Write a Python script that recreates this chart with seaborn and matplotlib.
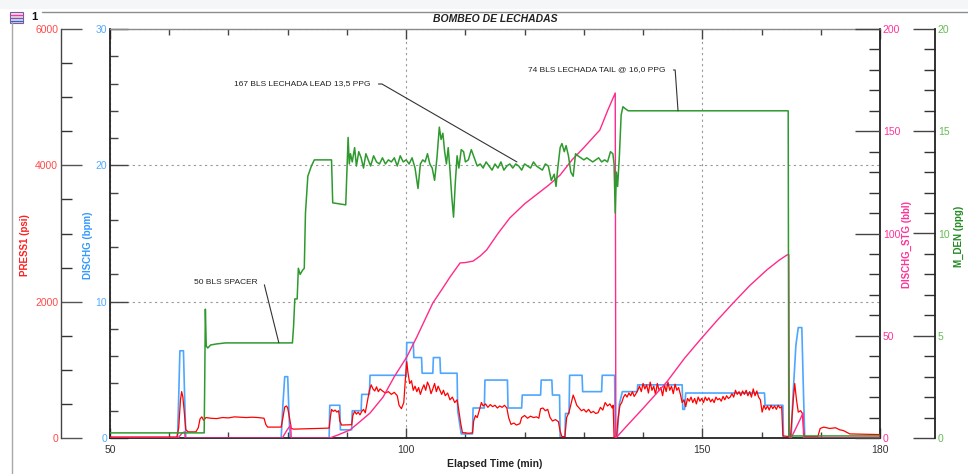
import numpy as np
import pandas as pd
import matplotlib
matplotlib.use("Agg")
import matplotlib.pyplot as plt
from matplotlib.ticker import MultipleLocator, FixedLocator
from matplotlib.patches import Rectangle
from matplotlib.lines import Line2D
import seaborn as sns

sns.set_style("white")
plt.rcParams["font.family"] = ["Liberation Sans", "DejaVu Sans"]

# ---------------- data ----------------
# PRESS1 (psi) vs elapsed time (min)
press_t = [50.0, 61.3, 61.6, 61.9, 62.1, 62.3, 62.5, 62.8, 63.2, 64.5, 64.9, 65.2, 65.5, 65.8, 66.2,
           67.0, 68.0, 69.0, 70.0, 71.0, 72.0, 73.0, 74.0, 75.0, 76.0, 76.3, 76.6, 78.9, 79.2, 79.5,
           79.8, 80.0, 80.3, 80.6, 81.0, 87.0, 87.2, 87.4, 87.7, 88.0, 88.3, 88.6, 88.8, 89.1, 90.8,
           91.0, 91.3, 91.6, 91.9, 92.2, 92.5, 92.8, 93.1, 93.5, 93.8, 94.1, 94.4, 94.7, 95.0, 95.3,
           95.6, 96.0, 96.5, 97.0, 97.5, 98.0, 98.5, 98.8, 99.2, 99.6, 99.9, 100.1, 100.3, 100.6, 100.9,
           101.2, 101.5, 101.8, 102.1, 102.4, 102.7, 103.0, 103.3, 103.6, 103.9, 104.2, 104.5, 104.8, 105.1, 105.4,
           105.7, 106.0, 106.3, 106.6, 107.0, 107.4, 107.8, 108.2, 108.6, 108.9, 109.2, 109.5, 110.5, 111.2, 111.4,
           111.7, 112.0, 112.4, 112.7, 113.0, 113.4, 113.8, 114.2, 114.6, 115.0, 115.4, 115.8, 116.2, 116.6, 117.0,
           117.3, 117.7, 118.2, 118.6, 119.2, 119.5, 120.0, 120.5, 121.0, 121.5, 122.0, 122.4, 122.7, 123.1, 123.5,
           123.9, 124.3, 124.7, 125.2, 125.7, 126.0, 126.3, 126.8, 127.1, 127.5, 127.9, 128.2, 128.5, 128.8, 129.2,
           129.6, 130.0, 130.4, 130.8, 131.2, 131.6, 132.0, 132.4, 132.8, 133.2, 133.6, 134.0, 134.4, 134.8, 134.95,
           135.1, 135.5, 135.8, 136.1, 136.4, 136.7, 137.0, 137.3, 137.6, 137.9, 138.2, 138.5, 138.8, 139.1, 139.4,
           139.7, 140.0, 140.3, 140.6, 140.9, 141.2, 141.5, 141.8, 142.1, 142.4, 142.7, 143.0, 143.3, 143.6, 143.9,
           144.2, 144.5, 144.8, 145.1, 145.4, 145.7, 146.0, 146.3, 146.6, 146.9, 147.2, 147.5, 147.8, 148.1, 148.4,
           148.7, 149.0, 149.3, 149.6, 149.9, 150.2, 150.5, 150.8, 151.1, 151.4, 151.7, 152.0, 152.3, 152.6, 152.9,
           153.2, 153.5, 153.8, 154.1, 154.4, 154.7, 155.0, 155.3, 155.6, 155.9, 156.2, 156.5, 156.8, 157.1, 157.4,
           157.7, 158.0, 158.3, 158.6, 158.9, 159.2, 159.5, 159.8, 160.1, 160.4, 160.7, 161.0, 161.3, 161.6, 161.9,
           162.2, 162.5, 162.8, 163.1, 163.4, 163.6, 164.9, 165.3, 165.6, 165.9, 166.2, 166.6, 166.9, 167.2, 169.5,
           169.9, 170.5, 171.5, 172.5, 173.2, 173.8, 174.9, 180.0]
press_v = [15, 15, 150, 560, 680, 600, 420, 120, 90, 90, 150, 280, 310, 260, 300,
           290, 285, 300, 295, 310, 305, 300, 305, 300, 290, 200, 160, 160, 300, 455,
           470, 440, 300, 140, 130, 145, 300, 420, 390, 410, 380, 400, 250, 190, 195,
           330, 390, 350, 380, 340, 390, 420, 370, 560, 700, 780, 720, 690, 750, 680,
           720, 690, 660, 680, 640, 670, 620, 480, 430, 520, 900, 1120, 960, 800, 840,
           700, 760, 680, 740, 640, 720, 780, 700, 820, 760, 650, 720, 800, 680, 760,
           700, 640, 700, 620, 660, 560, 600, 520, 560, 400, 220, 80, 70, 75, 250,
           330, 300, 420, 520, 470, 500, 450, 490, 460, 480, 440, 470, 450, 480, 440,
           300, 200, 220, 190, 210, 300, 330, 290, 320, 300, 310, 290, 430, 440, 400,
           420, 300, 250, 270, 240, 100, 20, 20, 300, 380, 520, 630, 560, 480, 440,
           400, 420, 380, 420, 370, 390, 360, 370, 450, 410, 520, 470, 500, 440, 480,
           10, 10, 300, 480, 520, 600, 640, 600, 660, 620, 680, 610, 650, 700, 760,
           680, 800, 720, 780, 660, 820, 700, 760, 640, 800, 700, 740, 620, 780, 680,
           820, 700, 760, 650, 790, 700, 740, 640, 520, 560, 460, 580, 540, 600, 520,
           580, 500, 600, 540, 580, 520, 600, 550, 590, 530, 570, 520, 600, 560, 580,
           540, 610, 560, 620, 580, 600, 650, 600, 700, 640, 680, 620, 690, 640, 700,
           620, 680, 600, 720, 620, 690, 600, 560, 380, 480, 420, 470, 410, 480, 430,
           470, 420, 480, 440, 460, 30, 20, 500, 800, 560, 380, 400, 360, 20, 20,
           140, 160, 140, 150, 120, 110, 60, 50]

# DISCHG (bpm)
rate_t = [50.0, 61.4, 61.6, 61.8, 62.4, 62.6, 62.8, 78.9, 79.2, 79.5, 80.0, 80.2, 80.4, 87.0, 87.1,
          88.8, 88.9, 90.8, 90.9, 92.4, 92.5, 93.8, 93.9, 100.0, 100.1, 101.2, 101.3, 102.6, 102.7, 104.5,
          104.6, 105.7, 105.8, 108.6, 108.7, 109.3, 111.2, 111.3, 113.2, 113.3, 117.1, 117.2, 119.5, 119.6, 122.7,
          122.8, 124.6, 124.7, 125.9, 126.0, 126.8, 126.9, 127.5, 127.6, 129.7, 129.8, 133.0, 133.1, 135.2, 135.3,
          135.6, 136.0, 136.5, 139.0, 139.1, 146.6, 146.7, 147.0, 147.2, 160.5, 160.6, 163.6, 163.7, 165.0, 165.3,
          165.8, 166.2, 166.8, 167.1, 167.3, 180.0]
rate_v = [0, 0, 3.0, 6.4, 6.4, 3.0, 0, 0, 2.5, 4.5, 4.5, 2.0, 0, 0, 2.4,
          2.4, 0.6, 0.6, 2.0, 2.0, 3.2, 3.2, 4.6, 4.6, 7.0, 7.0, 5.9, 5.9, 4.75, 4.75,
          5.9, 5.9, 4.75, 4.75, 2.0, 0.3, 0.3, 2.2, 2.2, 4.25, 4.25, 2.2, 2.2, 3.15, 3.15,
          4.25, 4.25, 3.15, 3.15, 0, 0, 1.8, 1.8, 4.6, 4.6, 3.4, 3.4, 4.6, 4.6, 0,
          0, 2.5, 3.4, 3.4, 3.9, 3.9, 2.1, 2.1, 3.3, 3.3, 2.4, 2.4, 0, 0, 3.0,
          6.8, 8.1, 8.1, 3.0, 0, 0]

# DISCHG_STG (bbl)
stage_t = [50.0, 61.5, 62.2, 62.6, 62.7, 79.1, 79.8, 80.5, 80.6, 87.1, 88.5, 90.5, 92.0, 93.9, 96.1,
           98.0, 100.1, 101.8, 103.2, 104.5, 106.0, 107.4, 109.1, 110.0, 111.3, 112.5, 113.6, 115.5, 117.5, 120.0,
           122.0, 124.0, 126.0, 128.0, 130.0, 132.7, 134.0, 135.3, 135.4, 137.0, 140.0, 144.0, 147.0, 149.6, 152.5,
           155.2, 158.0, 160.9, 163.0, 164.3, 164.6, 164.7, 165.0, 165.5, 166.5, 167.0, 167.1, 180.0]
stage_v = [0, 0, 2.5, 3.0, 0, 0, 3.5, 6.4, 0, 0, 1.5, 3.9, 7.5, 12.2, 20.0,
           30.0, 39.6, 49.4, 58.0, 66.0, 72.5, 78.7, 85.6, 85.8, 86.5, 89.0, 92.0, 100.0, 107.6, 114.5,
           119.0, 123.5, 128.6, 136.0, 142.0, 150.6, 160.0, 168.7, 0, 5.1, 14.5, 27.4, 39.0, 47.9, 57.5,
           66.0, 74.5, 82.2, 87.0, 89.5, 89.7, 0, 0, 3.0, 9.0, 12.2, 0, 0]

# M_DEN (ppg)
dens_t = [50.0, 65.9, 66.0, 66.1, 66.25, 66.5, 67.0, 68.0, 69.5, 80.8, 81.0, 81.2, 81.6, 81.8, 82.1,
          82.5, 82.8, 83.0, 83.4, 84.0, 84.5, 87.4, 87.6, 89.8, 90.0, 90.2, 90.4, 90.6, 90.9, 91.3,
          91.6, 92.0, 92.4, 92.8, 93.2, 93.6, 94.0, 94.5, 95.0, 95.5, 96.0, 96.5, 97.0, 97.5, 98.0,
          98.5, 99.0, 99.5, 100.0, 100.5, 101.0, 101.5, 102.0, 102.4, 102.8, 103.2, 103.6, 104.0, 104.4, 104.8,
          105.2, 105.6, 105.9, 106.2, 106.5, 106.8, 107.1, 107.4, 107.7, 108.0, 108.3, 108.6, 108.9, 109.3, 109.7,
          110.0, 110.5, 111.0, 111.5, 112.0, 112.5, 113.0, 113.5, 114.0, 114.5, 115.0, 115.5, 116.0, 116.5, 117.0,
          117.5, 118.0, 118.5, 119.0, 119.5, 120.0, 120.5, 121.0, 121.5, 122.0, 122.5, 123.0, 123.5, 124.0, 124.5,
          125.0, 125.3, 125.6, 126.0, 126.3, 126.7, 127.0, 127.4, 127.8, 128.2, 128.6, 129.0, 129.5, 130.0, 130.5,
          131.0, 131.5, 132.0, 132.5, 133.0, 133.5, 134.0, 134.5, 134.9, 135.1, 135.3, 135.5, 135.7, 136.0, 136.3,
          136.6, 137.0, 137.5, 164.5, 164.6, 180.0]
dens_v = [0.25, 0.25, 3.0, 6.3, 4.5, 4.4, 4.55, 4.6, 4.65, 4.65, 5.5, 6.8, 6.8, 8.3, 8.0,
          8.2, 8.3, 11.0, 12.8, 13.3, 13.6, 13.6, 11.5, 11.4, 13.0, 14.7, 13.4, 13.9, 13.5, 14.2,
          13.3, 14.0, 13.7, 13.2, 13.9, 13.6, 13.3, 13.8, 13.5, 13.4, 13.7, 13.4, 13.6, 13.5, 13.7,
          13.3, 13.8, 13.5, 13.6, 13.4, 13.7, 13.2, 12.2, 13.4, 13.6, 13.5, 13.9, 13.4, 13.2, 12.6,
          13.7, 15.2, 14.6, 14.9, 14.0, 13.4, 14.2, 13.1, 11.8, 10.8, 12.5, 13.8, 13.2, 14.1, 14.0,
          13.5, 13.6, 14.1, 13.7, 13.3, 13.4, 13.2, 13.5, 13.3, 13.1, 13.4, 13.2, 13.5, 13.1, 13.3,
          13.4, 13.2, 13.4, 13.3, 13.1, 13.4, 13.3, 13.2, 13.5, 13.3, 13.2, 13.1, 13.4, 13.3, 12.6,
          12.9, 12.3, 13.2, 14.2, 14.4, 14.0, 14.3, 13.8, 13.0, 12.8, 13.9, 13.8, 13.7, 13.6, 13.7,
          13.6, 13.5, 13.6, 13.7, 13.5, 13.6, 13.5, 14.0, 13.9, 13.4, 11.0, 13.0, 12.3, 13.8, 15.8,
          16.2, 16.1, 16.0, 16.0, 0.1, 0.1]

x_major = [50, 100, 150, 180]

# ---------------- figure ----------------
W, H = 968, 474
fig = plt.figure(figsize=(W / 100, H / 100), dpi=100)
fig.patch.set_facecolor("white")

L, R, T, B = 110, 880, 29, 438
ax = fig.add_axes([L / W, 1 - B / H, (R - L) / W, (B - T) / H])
ax_p = ax.twinx()
ax_s = ax.twinx()
ax_d = ax.twinx()

c_press, c_rate, c_stage, c_dens = "#ff0000", "#4da6ff", "#ff2a8a", "#2e9a2e"

sns.lineplot(x=rate_t, y=rate_v, ax=ax, color=c_rate, lw=1.2, sort=False, estimator=None)
sns.lineplot(x=press_t, y=press_v, ax=ax_p, color=c_press, lw=0.9, sort=False, estimator=None)
sns.lineplot(x=stage_t, y=stage_v, ax=ax_s, color=c_stage, lw=1.0, sort=False, estimator=None)
sns.lineplot(x=dens_t, y=dens_v, ax=ax_d, color=c_dens, lw=1.1, sort=False, estimator=None)

ax.set_xlim(50, 180)
ax.set_ylim(0, 30)
ax_p.set_ylim(0, 6000)
ax_s.set_ylim(0, 200)
ax_d.set_ylim(0, 20)

label_y = (B - 245) / (B - T)

# x axis
ax.xaxis.set_major_locator(FixedLocator(x_major))
ax.xaxis.set_minor_locator(MultipleLocator(10))
ax.tick_params(axis="x", which="major", direction="in", length=7, width=1, color="#444",
               labelsize=7.5, labelcolor="#333", top=True, bottom=True, pad=5)
ax.tick_params(axis="x", which="minor", direction="in", length=4, width=1, color="#444",
               top=True, bottom=True)
ax.set_xlabel("Elapsed Time (min)", fontsize=7.5, fontweight="bold", color="#222", labelpad=3)

# DISCHG axis (left, at plot edge)
ax.yaxis.set_major_locator(MultipleLocator(10))
ax.yaxis.set_minor_locator(MultipleLocator(2))
ax.tick_params(axis="y", which="major", direction="in", length=13, width=1, color="#444",
               labelsize=7.5, labelcolor="#55aaff", pad=2, right=False)
ax.tick_params(axis="y", which="minor", direction="in", length=6, width=1, color="#444", right=False)
ax.set_ylabel("DISCHG (bpm)", fontsize=7, fontweight="bold", color="#3399ff")
ax.yaxis.set_label_coords((88 - L) / (R - L), label_y)
ax.grid(True, which="major", axis="both", color="#9a9a9a", linestyle=(0, (2, 3)), lw=0.8)

# PRESS1 axis (outer left)
ax_p.spines["left"].set_position(("axes", (61 - L) / (R - L)))
ax_p.yaxis.set_ticks_position("left")
ax_p.yaxis.set_label_position("left")
ax_p.yaxis.set_major_locator(MultipleLocator(2000))
ax_p.yaxis.set_minor_locator(MultipleLocator(500))
ax_p.tick_params(axis="y", which="major", direction="in", length=15, width=1, color="#555",
                 labelsize=7.5, labelcolor="#ff4a4a", pad=2)
ax_p.tick_params(axis="y", which="minor", direction="in", length=8, width=1, color="#333")
ax_p.set_ylabel("PRESS1 (psi)", fontsize=7, fontweight="bold", color="#ff2020")
ax_p.yaxis.set_label_coords((25 - L) / (R - L), label_y)

# DISCHG_STG axis (right, at plot edge)
ax_s.yaxis.set_major_locator(MultipleLocator(50))
ax_s.yaxis.set_minor_locator(MultipleLocator(10))
ax_s.tick_params(axis="y", which="major", direction="in", length=18, width=1, color="#444",
                 labelsize=7.5, labelcolor="#ff3399", pad=2)
ax_s.tick_params(axis="y", which="minor", direction="in", length=8, width=1, color="#333")
ax_s.set_ylabel("DISCHG_STG (bbl)", fontsize=7, fontweight="bold", color="#ff3399")
ax_s.yaxis.set_label_coords((907 - L) / (R - L), label_y)

# M_DEN axis (outer right)
ax_d.spines["right"].set_position(("axes", (935 - L) / (R - L)))
ax_d.yaxis.set_major_locator(MultipleLocator(5))
ax_d.yaxis.set_minor_locator(MultipleLocator(1))
ax_d.tick_params(axis="y", which="major", direction="in", length=16, width=1, color="#444",
                 labelsize=7.5, labelcolor="#66bb55", pad=2)
ax_d.tick_params(axis="y", which="minor", direction="in", length=8, width=1, color="#333")
ax_d.set_ylabel("M_DEN (ppg)", fontsize=7, fontweight="bold", color="#228b22")
ax_d.yaxis.set_label_coords((959 - L) / (R - L), (B - 236) / (B - T))

for a in (ax, ax_p, ax_s, ax_d):
    a.yaxis.label.set_verticalalignment("center")
    a.yaxis.label.set_horizontalalignment("center")

# spines
for a in (ax, ax_p, ax_s, ax_d):
    for s in a.spines.values():
        s.set_visible(False)
for side in ("left", "bottom", "right"):
    ax.spines[side].set_visible(True)
    ax.spines[side].set_color("#222")
    ax.spines[side].set_linewidth(1.3)
ax.spines["top"].set_visible(True)
ax.spines["top"].set_color("#8a8a8a")
ax.spines["top"].set_linewidth(1.0)
ax_p.spines["left"].set_visible(True)
ax_p.spines["left"].set_color("#444")
ax_p.spines["left"].set_linewidth(1.0)
ax_d.spines["right"].set_visible(True)
ax_d.spines["right"].set_color("#222")
ax_d.spines["right"].set_linewidth(1.3)

ax.set_title("BOMBEO DE LECHADAS", fontsize=7.5, fontweight="bold", style="italic",
             color="#222", pad=5)

# stage annotations: short horizontal lead from the text end, then a leader line
def leader(angle_b):
    return dict(arrowstyle="-", color="#333", lw=0.8, shrinkA=3, shrinkB=0, relpos=(1, 0.5),
                connectionstyle=f"angle,angleA=0,angleB={angle_b},rad=0")

ax_d.annotate("167 BLS LECHADA LEAD 13,5 PPG", xy=(118.7, 13.5), xycoords="data",
              xytext=(371, H - 84), textcoords="figure pixels", ha="right", va="center",
              fontsize=6, color="#222", arrowprops=leader(150))
ax_d.annotate("74 BLS LECHADA TAIL @ 16,0 PPG", xy=(145.9, 16.0), xycoords="data",
              xytext=(666, H - 70), textcoords="figure pixels", ha="right", va="center",
              fontsize=6, color="#222", arrowprops=leader(94))
ax_d.annotate("50 BLS SPACER", xy=(78.5, 4.66), xycoords="data",
              xytext=(258, H - 282), textcoords="figure pixels", ha="right", va="center",
              fontsize=6, color="#222", arrowprops=leader(104))

# window frame
fig.patches.append(Rectangle((0, H - 9), W, 9, transform=None, facecolor="#f4f6f8",
                             edgecolor="none", zorder=0))
fig.lines.append(Line2D([42, W], [H - 12, H - 12], transform=None, color="#8c8c8c", lw=1.0))
fig.lines.append(Line2D([12, 12], [0, H - 22], transform=None, color="#a8a8a8", lw=1.0))
fig.patches.append(Rectangle((10, H - 23), 13, 11, transform=None, facecolor="#e8e0f0",
                             edgecolor="#7a5aa0", lw=0.8))
for yy, cc in ((H - 15, "#ff3399"), (H - 18, "#7a5aa0"), (H - 21, "#3366cc")):
    fig.lines.append(Line2D([11, 22], [yy, yy], transform=None, color=cc, lw=1.0))
fig.text(31 / W, 1 - 17 / H, "1", fontsize=8, fontweight="bold", color="#111",
         ha="left", va="center")

fig.savefig("out.png", dpi=100)
